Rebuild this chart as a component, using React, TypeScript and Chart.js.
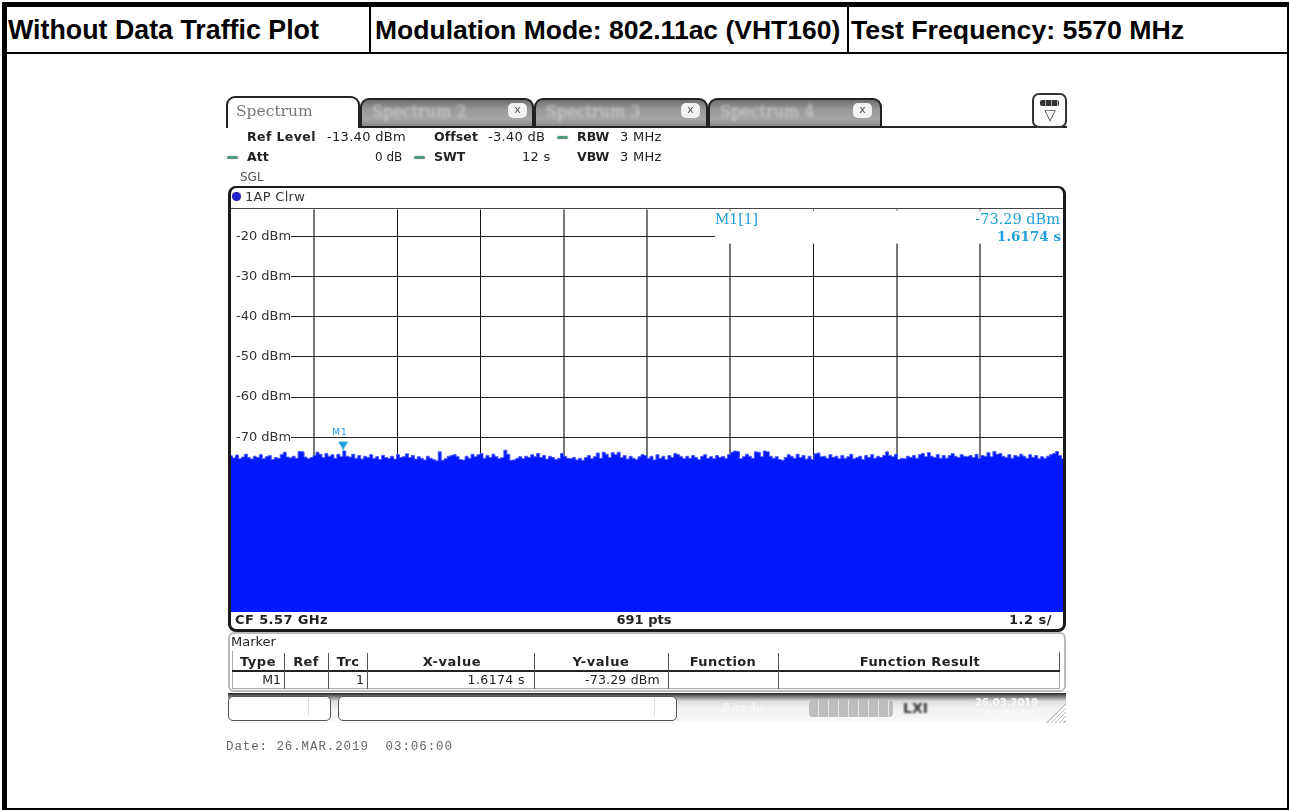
import React, { useEffect, useRef } from "react";
import { Chart, registerables } from "chart.js";

Chart.register(...registerables);

const headerCells = ["Without Data Traffic Plot", "Modulation Mode: 802.11ac (VHT160)", "Test Frequency: 5570 MHz"];
const yTickValues = [-20, -30, -40, -50, -60, -70];
const xTickValues = [0, 1.2, 2.4, 3.6, 4.8, 6, 7.2, 8.4, 9.6, 10.8, 12];
const grayGridIndexes = [1, 4, 5, 6, 8, 9];
const edgeGridIndexes = [0, 10];
const markerTime = [1.6174];
const markerLevel = [-73.29];
const traceValues = [
  -74.6,-75.1,-74.4,-75.3,-74.9,-74.2,-75.0,-75.4,-74.7,-75.0,-74.3,-75.3,-74.8,-74.5,-75.5,-75.0,-75.2,-74.3,-73.7,-74.9,
  -75.1,-74.7,-75.2,-73.5,-73.6,-74.9,-75.3,-75.0,-74.5,-73.7,-74.2,-75.0,-74.0,-74.7,-74.3,-75.2,-74.2,-74.8,-73.4,-74.7,
  -74.9,-74.2,-75.2,-74.5,-75.4,-74.7,-75.0,-74.3,-75.2,-74.8,-75.5,-74.5,-75.0,-75.2,-74.7,-75.4,-74.3,-75.0,-74.8,-74.1,
  -75.0,-74.5,-75.4,-74.8,-75.2,-75.6,-74.7,-75.2,-75.5,-75.8,-73.6,-75.7,-75.3,-74.7,-74.5,-74.3,-74.8,-75.5,-75.6,-74.7,
  -75.2,-74.2,-74.8,-74.3,-74.0,-75.2,-74.5,-75.0,-74.2,-74.8,-75.3,-75.0,-73.2,-74.2,-75.7,-75.6,-75.2,-74.8,-75.3,-74.7,
  -75.0,-74.3,-74.8,-74.0,-75.0,-74.5,-75.4,-74.7,-75.0,-75.5,-75.2,-74.0,-74.7,-75.2,-75.3,-75.0,-75.6,-75.2,-75.7,-75.0,
  -74.5,-75.3,-74.8,-73.9,-75.2,-73.7,-74.2,-75.0,-73.8,-74.3,-73.7,-75.0,-74.5,-75.4,-74.7,-75.2,-75.5,-74.8,-74.3,-74.5,
  -75.2,-74.7,-75.6,-74.3,-75.2,-74.7,-75.5,-74.5,-75.0,-74.0,-74.3,-74.8,-75.3,-74.7,-75.2,-74.5,-75.0,-75.5,-74.7,-74.3,
  -75.2,-74.8,-75.3,-74.5,-75.0,-74.7,-75.2,-74.3,-73.7,-73.4,-73.5,-75.3,-74.8,-74.2,-74.7,-75.2,-73.6,-73.7,-74.8,-73.4,
  -73.6,-74.7,-75.2,-74.8,-75.5,-75.7,-75.0,-74.3,-74.7,-75.2,-74.2,-75.0,-74.5,-75.4,-74.7,-75.5,-74.1,-73.9,-74.8,-74.7,
  -75.2,-74.3,-75.0,-74.7,-75.3,-74.5,-75.2,-74.8,-74.2,-75.3,-75.0,-74.7,-75.5,-74.5,-75.0,-74.3,-75.2,-74.7,-75.0,-74.5,
  -73.6,-74.5,-74.8,-74.2,-75.5,-75.2,-75.3,-74.7,-75.0,-74.5,-75.2,-74.3,-74.0,-74.8,-73.8,-74.7,-75.0,-74.3,-75.2,-74.5,
  -75.2,-74.5,-74.0,-74.7,-75.0,-74.3,-74.7,-74.8,-74.5,-75.0,-74.2,-75.2,-74.5,-74.7,-73.8,-74.8,-73.5,-74.2,-74.0,-74.7,
  -75.0,-74.3,-75.2,-74.5,-74.8,-74.2,-74.7,-75.2,-74.3,-75.0,-74.5,-75.3,-74.8,-75.2,-74.7,-74.3,-74.0,-73.5,-74.5,-75.3,
];

const SANS = "'DejaVu Sans', sans-serif";
const BLUE = "#0418ff";
const FRINGE = "#4a5cff";
const CYAN = "#1f9fdc";

type BoxProps = { x: number; y: number; w: number; h: number; style?: React.CSSProperties; children?: React.ReactNode };
const Box = ({ x, y, w, h, style, children }: BoxProps) => (
  <div style={{ position: "absolute", left: x, top: y, width: w, height: h, boxSizing: "border-box", ...style }}>{children}</div>
);

type TextProps = { x?: number; r?: number; c?: number; y: number; size?: number; bold?: boolean; color?: string; font?: string; blur?: number; spacing?: number; children: React.ReactNode };
const T = ({ x, r, c, y, size = 12, bold, color = "#222", font = SANS, blur = 0.3, spacing = 0, children }: TextProps) => (
  <div
    style={{
      position: "absolute",
      top: y - 10,
      height: 20,
      lineHeight: "20px",
      left: x !== undefined ? x : c !== undefined ? c - 200 : undefined,
      right: r !== undefined ? 1289 - r : undefined,
      width: c !== undefined ? 400 : undefined,
      textAlign: c !== undefined ? "center" : undefined,
      whiteSpace: "pre",
      fontFamily: font,
      fontSize: size,
      fontWeight: bold ? 700 : 400,
      color,
      letterSpacing: spacing,
      filter: blur ? `blur(${blur}px)` : undefined,
    }}
  >
    {children}
  </div>
);

const Dash = ({ x, y }: { x: number; y: number }) => (
  <Box x={x} y={y} w={11} h={3} style={{ background: "#4f9d78", borderRadius: 2, boxShadow: "0 0 2px #e8a0d8", filter: "blur(0.4px)" }} />
);

const Tab = ({ x, w, label, btn }: { x: number; w: number; label: string; btn: number }) => (
  <>
    <Box x={x} y={98} w={w} h={30} style={{ border: "2px solid #222", borderBottom: "none", borderRadius: "9px 9px 0 0", background: "linear-gradient(#6f6f6f,#9a9a9a 35%,#a6a6a6 70%,#808080)" }} />
    <T x={x + 12} y={112} size={16} color="#cfcfcf" font="'DejaVu Serif', serif" blur={1.4}>{label}</T>
    <Box x={btn} y={103} w={19} h={15} style={{ background: "#f2f2f2", borderRadius: 5, filter: "blur(0.4px)" }} />
    <T c={btn + 9.5} y={110} size={11} color="#555">x</T>
  </>
);

export default function App() {
  const ref = useRef<HTMLCanvasElement | null>(null);

  useEffect(() => {
    document.body.style.margin = "0";
    if (!ref.current) return;

    const markerIcon = document.createElement("canvas");
    markerIcon.width = 24;
    markerIcon.height = 24;
    const m = markerIcon.getContext("2d")!;
    m.fillStyle = CYAN;
    m.beginPath();
    m.moveTo(7, 3);
    m.lineTo(17, 3);
    m.lineTo(12, 11);
    m.closePath();
    m.fill();
    m.fillRect(11.5, 10, 1, 2);

    const whiteMasks = {
      id: "whiteMasks",
      beforeDatasetsDraw(chart: Chart) {
        const { ctx, scales } = chart;
        const left = scales.x.left;
        ctx.save();
        ctx.fillStyle = "#fff";
        yTickValues.forEach((v) => {
          const p = scales.y.getPixelForValue(v);
          ctx.fillRect(left, p - 7, 60, 14);
        });
        ctx.fillRect(715, scales.y.top + 1, scales.x.right - 715, 33);
        ctx.restore();
      },
    };

    const chart = new Chart(ref.current, {
      type: "line",
      data: {
        datasets: [
          {
            label: "M1",
            data: markerTime.map((x, i) => ({ x, y: markerLevel[i] })),
            showLine: false,
            pointStyle: markerIcon,
            pointRadius: 12,
            order: 0,
          },
          {
            label: "1AP Clrw",
            data: traceValues.map((y, i) => ({ x: (i * 12) / (traceValues.length - 1), y })),
            borderColor: FRINGE,
            backgroundColor: BLUE,
            borderWidth: 1,
            pointRadius: 0,
            stepped: "middle",
            fill: "start",
            order: 1,
          },
        ],
      },
      options: {
        animation: false,
        responsive: false,
        events: [],
        layout: { padding: { left: 231, right: 1289 - 1063, top: 209.6, bottom: 810 - 612 } },
        plugins: { legend: { display: false }, tooltip: { enabled: false } },
        scales: {
          x: {
            type: "linear",
            min: 0,
            max: 12,
            afterBuildTicks: (s: any) => { s.ticks = xTickValues.map((value) => ({ value })); },
            afterFit: (s: any) => { s.height = 0; },
            ticks: { display: false },
            border: { display: false },
            grid: {
              drawTicks: false,
              color: (c: any) => (edgeGridIndexes.includes(c.index) ? "transparent" : grayGridIndexes.includes(c.index) ? "#777" : "#111"),
              lineWidth: (c: any) => (grayGridIndexes.includes(c.index) ? 2 : 1),
            },
          },
          y: {
            type: "linear",
            min: -113.4,
            max: -13.4,
            afterBuildTicks: (s: any) => { s.ticks = yTickValues.map((value) => ({ value })); },
            afterFit: (s: any) => { s.width = 0; },
            border: { display: false },
            grid: { drawTicks: false, color: "#222", lineWidth: 1 },
            ticks: {
              mirror: true,
              padding: 5,
              z: 1,
              color: "#333",
              font: { family: "DejaVu Sans", size: 13 },
              callback: (v: any) => `${v} dBm`,
            },
          },
        },
      },
      plugins: [whiteMasks],
    } as any);
    return () => chart.destroy();
  }, []);

  const H = "'Liberation Sans', sans-serif";

  return (
    <div style={{ position: "absolute", left: 0, top: 0, width: 1289, height: 810, background: "#fff", overflow: "hidden" }}>
      {/* Outer report frame */}
      <Box x={2} y={2} w={5} h={808} style={{ background: "#000" }} />
      <Box x={2} y={2} w={1287} h={5} style={{ background: "#000" }} />
      <Box x={1287} y={2} w={2} h={808} style={{ background: "#000" }} />
      <Box x={2} y={808} w={1287} h={2} style={{ background: "#000" }} />
      <Box x={2} y={52} w={1287} h={2} style={{ background: "#000" }} />
      <Box x={369} y={2} w={2} h={52} style={{ background: "#000" }} />
      <Box x={847} y={2} w={2} h={52} style={{ background: "#000" }} />
      <T x={8} y={30} size={26.8} bold color="#000" font={H} blur={0}>{headerCells[0]}</T>
      <T x={375} y={30} size={26.5} bold color="#000" font={H} blur={0}>{headerCells[1]}</T>
      <T x={851} y={30} size={26.7} bold color="#000" font={H} blur={0}>{headerCells[2]}</T>

      {/* Tabs */}
      <Tab x={360} w={174} label="Spectrum 2" btn={508} />
      <Tab x={534} w={174} label="Spectrum 3" btn={681} />
      <Tab x={708} w={174} label="Spectrum 4" btn={853} />
      <Box x={360} y={126} w={707} h={2} style={{ background: "#222" }} />
      <Box x={226} y={96} w={134} h={32} style={{ border: "2px solid #222", borderBottom: "none", borderRadius: "9px 9px 0 0", background: "#fff" }} />
      <T x={236} y={111} size={15.5} color="#777" font="'DejaVu Serif', serif">Spectrum</T>
      <Box x={1032} y={93} w={35} h={35} style={{ border: "2px solid #333", borderRadius: 7, background: "#fff" }} />
      <Box x={1040} y={100} w={19} h={6} style={{ background: "repeating-linear-gradient(90deg,#333 0 5px,#aaa 5px 6px)", borderRadius: 2, filter: "blur(0.3px)" }} />
      <T c={1050} y={115} size={15} color="#444">▽</T>

      {/* Settings */}
      <T x={247} y={137} size={12.5} bold spacing={0.4}>Ref Level</T>
      <T x={327} y={137} size={13} spacing={0.3}>-13.40 dBm</T>
      <T x={434} y={137} size={12.5} bold spacing={0.1}>Offset</T>
      <T x={488} y={137} size={13} spacing={0.3}>-3.40 dB</T>
      <Dash x={557} y={136} />
      <T x={577} y={137} size={12.5} bold>RBW</T>
      <T x={620} y={137} size={13} spacing={0.3}>3 MHz</T>
      <Dash x={227} y={156} />
      <T x={247} y={157} size={12.5} bold>Att</T>
      <T x={375} y={157} size={12}>0 dB</T>
      <Dash x={414} y={156} />
      <T x={434} y={157} size={12.5} bold>SWT</T>
      <T x={522} y={157} size={13} spacing={0.3}>12 s</T>
      <T x={577} y={157} size={12.5} bold>VBW</T>
      <T x={620} y={157} size={13} spacing={0.3}>3 MHz</T>
      <T x={240} y={177} size={12} color="#555">SGL</T>

      {/* Trace panel */}
      <Box x={228} y={186} w={838} h={446} style={{ border: "3px solid #1a1a1a", borderRadius: 8, borderTopWidth: 2 }} />
      <Box x={231} y={208} w={832} h={1} style={{ background: "#444" }} />
      <Box x={232} y={192} w={9} h={9} style={{ background: "#2222cc", borderRadius: "50%", boxShadow: "0 0 1px #c8a040" }} />
      <T x={245} y={197} size={13} color="#333" spacing={0.3}>1AP Clrw</T>

      <canvas ref={ref} width={1289} height={810} style={{ position: "absolute", left: 0, top: 0, width: 1289, height: 810 }} />

      <T x={715} y={219} size={14} color={CYAN} font="'DejaVu Serif', serif" blur={0.6}>M1[1]</T>
      <T r={1060} y={219} size={14.5} color={CYAN} font="'DejaVu Serif', serif" blur={0.6}>-73.29 dBm</T>
      <T r={1061} y={236} size={13.5} bold color={CYAN} font="'DejaVu Serif', serif" blur={0.6}>1.6174 s</T>
      <T c={340} y={432} size={9} color={CYAN} blur={0.7} spacing={1}>M1</T>

      <T x={235} y={620} size={13} bold spacing={0.4}>CF 5.57 GHz</T>
      <T c={644} y={620} size={13} bold>691 pts</T>
      <T r={1052} y={620} size={13} bold spacing={0.5}>1.2 s/</T>

      {/* Marker table */}
      <Box x={228} y={632} w={838} h={60} style={{ border: "2px solid #bbb", borderRadius: 6 }} />
      <T x={231} y={642} size={13}>Marker</T>
      <Box x={232} y={651} w={828} h={38} style={{ borderBottom: "1px solid #aaa", borderLeft: "1px solid #aaa", borderRight: "1px solid #aaa" }} />
      <Box x={232} y={670} w={828} h={2} style={{ background: "#222" }} />
      {[284, 328, 367, 534, 668, 778].map((x) => (
        <Box key={x} x={x} y={653} w={1} h={36} style={{ background: "#555" }} />
      ))}
      <Box x={1059} y={653} w={1} h={18} style={{ background: "#555" }} />
      <T c={258} y={662} size={13} bold spacing={0.5}>Type</T>
      <T c={306} y={662} size={13} bold spacing={0.3}>Ref</T>
      <T c={348} y={662} size={13} bold spacing={0.3}>Trc</T>
      <T c={452} y={662} size={13} bold spacing={0.6}>X-value</T>
      <T c={601} y={662} size={13} bold spacing={0.6}>Y-value</T>
      <T c={723} y={662} size={13} bold spacing={0.4}>Function</T>
      <T c={920} y={662} size={13} bold spacing={0.4}>Function Result</T>
      <T r={281} y={680} size={12.5}>M1</T>
      <T r={364} y={680} size={12.5}>1</T>
      <T r={525} y={680} size={12.5} spacing={0.4}>1.6174 s</T>
      <T r={660} y={680} size={12.5} spacing={0.2}>-73.29 dBm</T>

      {/* Status bar */}
      <Box x={228} y={693} w={838} h={30} style={{ background: "linear-gradient(#222 0,#555 2px,#ddd 8px,#f2f2f2 16px,#fafafa 100%)" }} />
      <Box x={228} y={696} w={103} h={25} style={{ border: "1px solid #555", borderRadius: 5, background: "#fff" }} />
      <Box x={308} y={698} w={1} h={18} style={{ background: "#ddd" }} />
      <Box x={338} y={696} w={339} h={25} style={{ border: "1px solid #555", borderRadius: 5, background: "#fff" }} />
      <Box x={654} y={698} w={1} h={18} style={{ background: "#ddd" }} />
      <T x={722} y={708} size={12} bold color="#f4f4f4">Ready</T>
      <Box x={809} y={700} w={84} h={17} style={{ background: "repeating-linear-gradient(90deg,#bdbdbd 0 9px,#e6e6e6 9px 10px)", borderRadius: 4 }} />
      <T x={903} y={708} size={14} bold color="#333" blur={1}>LXI</T>
      <T x={975} y={703} size={10} bold color="#f8f8f8">26.03.2019</T>
      <T x={985} y={715} size={10} bold color="#f8f8f8">03:06:00</T>
      <Box x={1046} y={703} w={20} h={20} style={{ background: "repeating-linear-gradient(135deg,#fff 0 2px,#bbb 2px 3px)", clipPath: "polygon(100% 0,100% 100%,0 100%)" }} />

      <T x={226} y={747} size={12.5} color="#666" font="'Liberation Mono', monospace" spacing={0.9} blur={0}>Date: 26.MAR.2019  03:06:00</T>
    </div>
  );
}
